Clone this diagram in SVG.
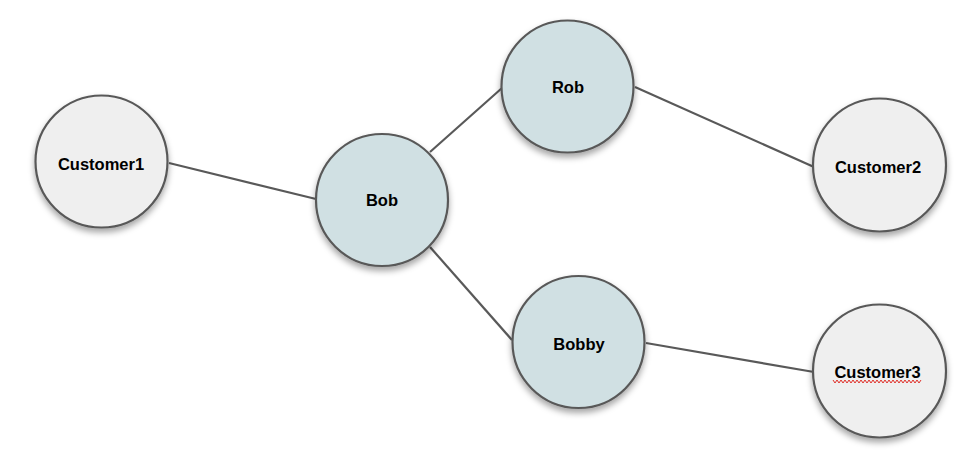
<svg xmlns="http://www.w3.org/2000/svg" width="972" height="464" viewBox="0 0 972 464">
<defs>
<filter id="sh" x="-30%" y="-30%" width="160%" height="170%">
<feDropShadow dx="0" dy="4" stdDeviation="3" flood-color="#000" flood-opacity="0.35"/>
</filter>
</defs>
<style>
.cust{fill:#efefef;stroke:#595959;stroke-width:2.2;filter:url(#sh)}
.per{fill:#d0e0e3;stroke:#595959;stroke-width:2.2;filter:url(#sh)}
.lbl{font-family:"Liberation Sans",Arial,sans-serif;font-weight:bold;font-size:16.5px;fill:#000;text-anchor:middle}
.edge{stroke:#595959;stroke-width:2.2;fill:none}
</style>
<rect width="972" height="464" fill="#fff"/>
<g id="connectors">
<line class="edge" x1="169" y1="163" x2="316" y2="199"/>
<line class="edge" x1="430" y1="152" x2="502" y2="88"/>
<line class="edge" x1="430" y1="247" x2="512" y2="340"/>
<line class="edge" x1="635" y1="87" x2="814" y2="167"/>
<line class="edge" x1="646" y1="343" x2="814" y2="372"/>
</g>
<g id="customer1"><circle class="cust" cx="101.5" cy="161.5" r="66"/><text class="lbl" x="101" y="170">Customer1</text></g>
<g id="bob"><circle class="per" cx="382" cy="200" r="66"/><text class="lbl" x="382" y="206">Bob</text></g>
<g id="rob"><circle class="per" cx="567.5" cy="86.5" r="66"/><text class="lbl" x="568" y="93">Rob</text></g>
<g id="customer2"><circle class="cust" cx="879.5" cy="165" r="66.5"/><text class="lbl" x="878" y="173">Customer2</text></g>
<g id="bobby"><circle class="per" cx="578.5" cy="342" r="66"/><text class="lbl" x="579" y="350">Bobby</text></g>
<g id="customer3"><circle class="cust" cx="879.5" cy="371" r="66.5"/><text class="lbl" x="877.5" y="378">Customer3</text>
<polyline points="833,380 835,383 837,380 839,383 841,380 843,383 845,380 847,383 849,380 851,383 853,380 855,383 857,380 859,383 861,380 863,383 865,380 867,383 869,380 871,383 873,380 875,383 877,380 879,383 881,380 883,383 885,380 887,383 889,380 891,383 893,380 895,383 897,380 899,383 901,380 903,383 905,380 907,383 909,380 911,383 913,380 915,383 917,380 919,383 921,380" fill="none" stroke="#e0312b" stroke-width="1"/></g>
</svg>
